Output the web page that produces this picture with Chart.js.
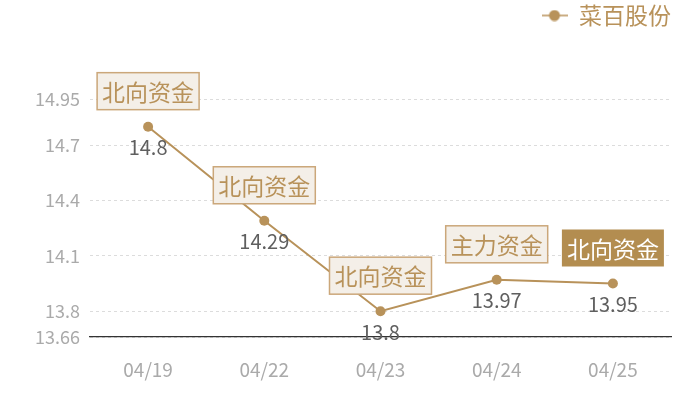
<!DOCTYPE html>
<html>
<head>
<meta charset="utf-8">
<script src="https://cdn.jsdelivr.net/npm/chart.js@4"></script>
<style>
  html, body { margin: 0; padding: 0; background: #fff; }
  #wrap { width: 700px; height: 400px; }
</style>
</head>
<body>
<div id="wrap"><canvas id="chart"></canvas></div>
<script>
const dates = ['04/19', '04/22', '04/23', '04/24', '04/25'];
const prices = [14.8, 14.29, 13.8, 13.97, 13.95];
const tags = ['北向资金', '北向资金', '北向资金', '主力资金', '北向资金'];
const highlighted = [false, false, false, false, true];
const yTicks = [13.66, 13.8, 14.1, 14.4, 14.7, 14.95];

const GOLD = '#b8925a';
const FONT = '"Noto Sans CJK SC", "Noto Sans", sans-serif';

// legend marker: short line with a dot
const marker = document.createElement('canvas');
marker.width = 26;
marker.height = 12;
const mctx = marker.getContext('2d');
mctx.strokeStyle = GOLD;
mctx.lineWidth = 1.5;
mctx.beginPath();
mctx.moveTo(0, 6);
mctx.lineTo(26, 6);
mctx.stroke();
mctx.fillStyle = GOLD;
mctx.beginPath();
mctx.arc(13, 6, 5.5, 0, Math.PI * 2);
mctx.fill();

// leave room between the legend and the plot
const legendGap = {
  id: 'legendGap',
  afterInit(chart) {
    const fit = chart.legend.fit;
    chart.legend.fit = function () {
      fit.call(this);
      this.height += 62;
    };
  }
};

const labelsPlugin = {
  id: 'tagLabels',
  afterDatasetsDraw(chart) {
    const { ctx } = chart;
    const meta = chart.getDatasetMeta(0);
    ctx.save();
    meta.data.forEach((pt, i) => {
      // value under the point
      ctx.font = '20px ' + FONT;
      ctx.fillStyle = '#5f5f5f';
      ctx.textAlign = 'center';
      ctx.textBaseline = 'middle';
      ctx.fillText(String(prices[i]), pt.x, pt.y + 21);

      // tag box above the point
      ctx.font = '23px ' + FONT;
      const w = ctx.measureText(tags[i]).width + 10;
      const h = 37;
      const bx = pt.x - w / 2;
      const by = pt.y - 17 - h;
      if (highlighted[i]) {
        ctx.fillStyle = '#b38d50';
        ctx.fillRect(bx, by, w, h);
        ctx.fillStyle = '#fff';
      } else {
        ctx.fillStyle = '#f4efe8';
        ctx.fillRect(bx, by, w, h);
        ctx.strokeStyle = '#cba77a';
        ctx.lineWidth = 1.5;
        ctx.strokeRect(bx, by, w, h);
        ctx.fillStyle = GOLD;
      }
      ctx.fillText(tags[i], pt.x, by + h / 2 + 1);
    });
    ctx.restore();
  }
};

new Chart(document.getElementById('chart'), {
  type: 'line',
  data: {
    labels: dates,
    datasets: [
      {
        label: '菜百股份',
        data: prices,
        borderColor: GOLD,
        backgroundColor: GOLD,
        borderWidth: 2,
        pointRadius: 5,
        pointBorderWidth: 0,
        pointStyle: 'circle',
        tension: 0,
      },
    ],
  },
  options: {
    responsive: true,
    maintainAspectRatio: false,
    animation: false,
    layout: { padding: { top: 4, right: 29, left: 0, bottom: 0 } },
    plugins: {
      tooltip: { enabled: false },
      legend: {
        align: 'end',
        labels: {
          color: GOLD,
          font: { family: FONT, size: 23 },
          usePointStyle: true,
          pointStyleWidth: 26,
          padding: 0,
          generateLabels: (chart) => [
            {
              text: chart.data.datasets[0].label,
              fontColor: GOLD,
              pointStyle: marker,
              datasetIndex: 0,
              lineWidth: 0,
            },
          ],
        },
      },
    },
    scales: {
      x: {
        offset: true,
        grid: { display: false, drawTicks: false },
        border: { display: true, color: '#333', width: 1.2 },
        ticks: { color: '#aaa', font: { family: FONT, size: 19 }, padding: 21 },
        afterFit: (scale) => { scale.height = 63; },
      },
      y: {
        min: 13.66,
        max: 14.95,
        afterBuildTicks: (scale) => { scale.ticks = yTicks.map(v => ({ value: v })); },
        grid: { color: '#dcdcdc', drawTicks: false },
        border: { display: false, dash: [3, 3] },
        ticks: {
          color: '#aaa',
          font: { family: FONT, size: 18 },
          padding: 10,
          callback: (v) => String(v),
        },
        afterFit: (scale) => { scale.width = 90; },
      },
    },
  },
  plugins: [legendGap, labelsPlugin],
});
</script>
</body>
</html>
